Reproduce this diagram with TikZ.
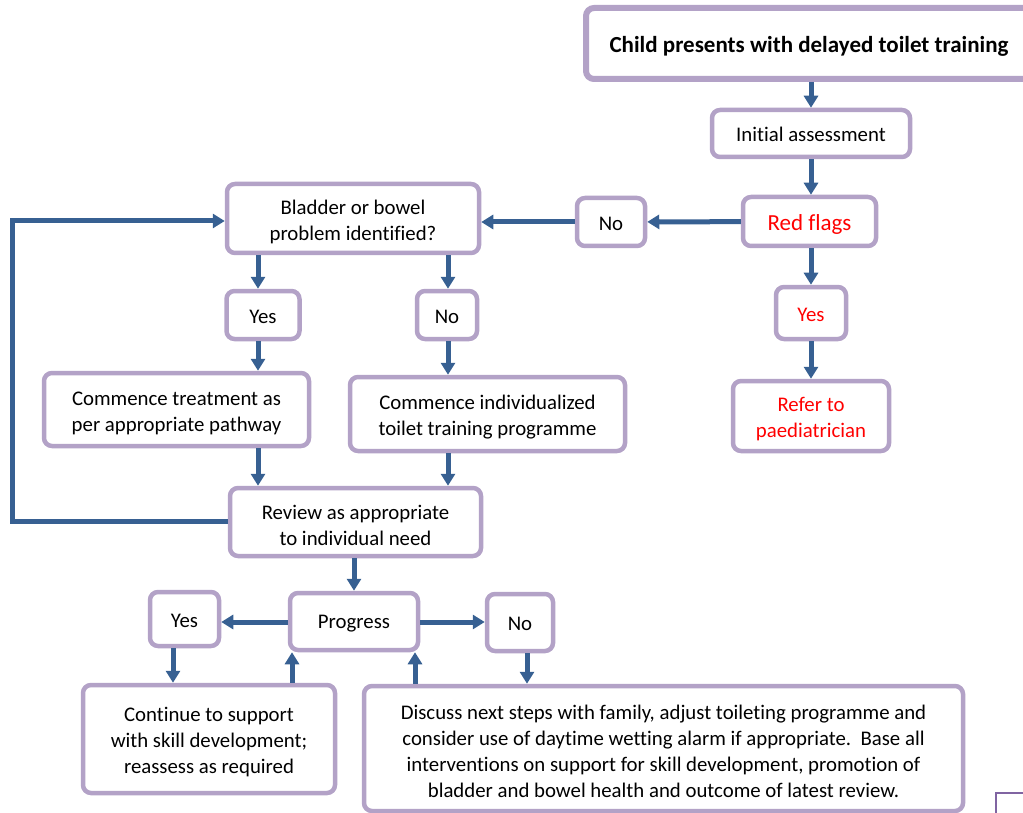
\documentclass[tikz,border=0pt]{standalone}
\usepackage{fontspec}
\setmainfont{Carlito}[Ligatures=NoCommon]
\usetikzlibrary{arrows.meta}

\definecolor{boxline}{HTML}{B3A2C7}
\definecolor{darkline}{HTML}{8064A2}
\definecolor{arrowblue}{HTML}{376092}
\definecolor{flagred}{HTML}{FF0000}

% taller first line, sets the text a little lower in its box
\newcommand{\toprule}[1][21pt]{\rule{0pt}{#1}}

\tikzset{
	stepbox/.style={draw=boxline, line width=4.5pt, rounded corners=8pt, fill=white,
		align=center, inner sep=0pt, font=\fontsize{20.8}{26}\selectfont},
	redtext/.style={text=flagred},
	arr/.style={draw=arrowblue, line width=5pt, -{Triangle[width=14pt,length=12pt]}},
}

\begin{document}
\begin{tikzpicture}[x=1pt,y=-1pt]
			\useasboundingbox (0,0) rectangle (1023,813);
			\clip (0,0) rectangle (1023,813);
			
			% Shapes
			\node[stepbox, line width=6pt, minimum width=446, minimum height=71,
				font=\fontsize{23}{28}\selectfont\bfseries] (title) at (809,43.5) {\toprule Child presents with delayed toilet training};
			\node[stepbox, minimum width=198, minimum height=47] (initial) at (811,133.5) {\toprule[17pt]Initial assessment};
			\node[stepbox, redtext, minimum width=133, minimum height=49,
				font=\fontsize{23}{28}\selectfont] (redflags) at (809.5,221.5) {\toprule Red flags};
			\node[stepbox, minimum width=68, minimum height=48] (nored) at (611,222) {\toprule[17pt]No};
			\node[stepbox, minimum width=252, minimum height=69] (bladder) at (353,218.5) {\toprule Bladder or bowel\\problem identified?};
			\node[stepbox, minimum width=73, minimum height=48] (yesleft) at (263,315) {\toprule[17pt]Yes};
			\node[stepbox, minimum width=60, minimum height=48] (nomid) at (447,315) {\toprule[17pt]No};
			\node[stepbox, redtext, minimum width=70, minimum height=52] (yesred) at (811,313) {\toprule[17pt]Yes};
			\node[stepbox, redtext, minimum width=156, minimum height=70] (refer) at (811,416) {\toprule Refer to\\paediatrician};
			\node[stepbox, minimum width=265, minimum height=73] (treat) at (176.5,409.5) {\toprule Commence treatment as\\per appropriate pathway};
			\node[stepbox, minimum width=275, minimum height=74] (indiv) at (487.5,414) {\toprule Commence individualized\\toilet training programme};
			\node[stepbox, minimum width=251, minimum height=68] (review) at (355.5,522) {\toprule Review as appropriate\\to individual need};
			\node[stepbox, minimum width=128, minimum height=57] (progress) at (354,621.5) {\toprule[17pt]Progress};
			\node[stepbox, minimum width=69, minimum height=54] (yesbot) at (184.5,619) {\toprule[17pt]Yes};
			\node[stepbox, minimum width=66, minimum height=57] (nobot) at (520,622.5) {\toprule[17pt]No};
			\node[stepbox, minimum width=252, minimum height=108] (support) at (209,739) {\toprule Continue to support\\with skill development;\\reassess as required};
			\node[stepbox, minimum width=599, minimum height=125] (discuss) at (663.5,748.5) {\toprule Discuss next steps with family, adjust toileting programme and\\consider use of daytime wetting alarm if appropriate.\ \ Base all\\interventions on support for skill development, promotion of\\bladder and bowel health and outcome of latest review.};
			
			% cut-off box at the page corner
			\draw[darkline, line width=2.5pt] (1060,793) -- (996,793) -- (996,830);
			
			% Columns of the arrows
			\coordinate (L) at (258,0);
			\coordinate (M) at (448,0);
			\coordinate (B) at (173,0);
			\coordinate (P) at (292,0);
			\coordinate (Q) at (415,0);
			\coordinate (N) at (527,0);
			\coordinate (loopbot) at (12,521);
			\coordinate (looptop) at (12,221);
			
			% Arrows
			\draw[arr] (initial |- title.south) -- (initial);
			\draw[arr] (initial) -- (initial |- redflags.north);
			\draw[arr] (redflags) -- (nored);
			\draw[arr] (nored) -- (nored -| bladder.east);
			\draw[arr] (redflags.south -| yesred) -- (yesred);
			\draw[arr] (yesred) -- (refer);
			
			\draw[arr] (bladder.south -| L) -- (yesleft.north -| L);
			\draw[arr] (yesleft.south -| L) -- (treat.north -| L);
			\draw[arr] (treat.south -| L) -- (review.north -| L);
			\draw[arr] (bladder.south -| M) -- (nomid.north -| M);
			\draw[arr] (nomid.south -| M) -- (indiv.north -| M);
			\draw[arr] (indiv.south -| M) -- (review.north -| M);
			\draw[arr, rounded corners=0pt] (review.west |- loopbot) -- (loopbot) -- (looptop) -- (bladder.west |- looptop);
			
			\draw[arr] (review.south -| progress) -- (progress);
			\draw[arr] (progress.west |- 0,622) -- (yesbot.east |- 0,622);
			\draw[arr] (progress.east |- 0,622) -- (nobot.west |- 0,622);
			\draw[arr] (yesbot.south -| B) -- (support.north -| B);
			\draw[arr] (support.north -| P) -- (progress.south -| P);
			\draw[arr] (discuss.north -| Q) -- (progress.south -| Q);
			\draw[arr] (nobot.south -| N) -- (discuss.north -| N);
		\end{tikzpicture}
\end{document}
